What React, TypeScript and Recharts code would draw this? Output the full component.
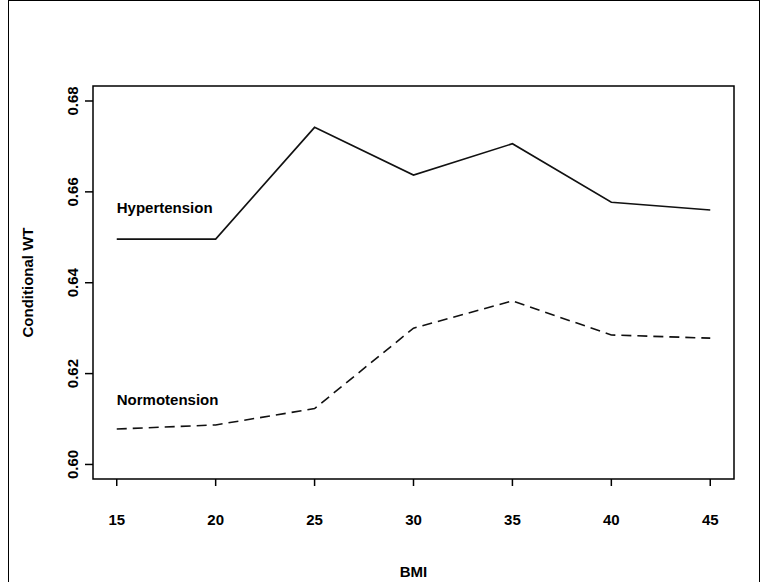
import React from 'react';
import { LineChart, Line, XAxis, YAxis, ReferenceArea, ReferenceDot, Label } from 'recharts';

const bmi = [15, 20, 25, 30, 35, 40, 45];
const hypertension = [0.6496, 0.6496, 0.6742, 0.6637, 0.6706, 0.6577, 0.656];
const normotension = [0.6078, 0.6087, 0.6123, 0.63, 0.636, 0.6285, 0.6278];
const xTicks = [15, 20, 25, 30, 35, 40, 45];
const yTicks = [0.6, 0.62, 0.64, 0.66, 0.68];
const xDomain = [13.8, 46.2];
const yDomain = [0.5968, 0.6833];
const annotations = [
  { text: 'Hypertension', x: 15, y: 0.6565 },
  { text: 'Normotension', x: 15, y: 0.6142 },
];

const data = bmi.map((b, i) => ({ bmi: b, hyper: hypertension[i], normo: normotension[i] }));

const FONT = '"Liberation Sans", Arial, sans-serif';

const YTick = (p: any) => {
  const { x, y, payload } = p;
  return (
    <text
      x={x}
      y={y}
      transform={`rotate(-90 ${x} ${y})`}
      textAnchor="middle"
      fontFamily={FONT}
      fontWeight="bold"
      fontSize={15}
      fill="#000"
    >
      {Number(payload.value).toFixed(2)}
    </text>
  );
};

const XTick = (p: any) => {
  const { x, y, payload } = p;
  return (
    <text x={x} y={y} dy={12} textAnchor="middle" fontFamily={FONT} fontWeight="bold" fontSize={15} fill="#000">
      {payload.value}
    </text>
  );
};

export default function App() {
  return (
    <div style={{ position: 'absolute', left: 0, top: 0, width: 769, height: 582, background: '#fff' }}>
      <div
        style={{
          position: 'absolute',
          left: 8,
          top: 0,
          width: 752,
          height: 582,
          borderLeft: '1.5px solid #000',
          borderTop: '1.5px solid #000',
          borderRight: '1.5px solid #000',
          boxSizing: 'border-box',
        }}
      />
      <div style={{ position: 'absolute', left: 0, top: 0 }}>
        <LineChart width={769} height={582} data={data} margin={{ top: 86, right: 35, bottom: 43, left: 33 }}>
          <XAxis
            dataKey="bmi"
            type="number"
            domain={xDomain}
            ticks={xTicks}
            allowDataOverflow
            axisLine={false}
            tickLine={{ stroke: '#000', strokeWidth: 1.5 }}
            tickSize={7}
            tickMargin={27}
            height={60}
            tick={<XTick />}
          >
            <Label
              content={(props: any) => {
                const vb = props.viewBox;
                return (
                  <text
                    x={vb.x + vb.width / 2}
                    y={571}
                    textAnchor="middle"
                    dominantBaseline="central"
                    fontFamily={FONT}
                    fontWeight="bold"
                    fontSize={15}
                    fill="#000"
                  >
                    BMI
                  </text>
                );
              }}
            />
          </XAxis>
          <YAxis
            type="number"
            domain={yDomain}
            ticks={yTicks}
            allowDataOverflow
            axisLine={false}
            tickLine={{ stroke: '#000', strokeWidth: 1.5 }}
            tickSize={8}
            tickMargin={7}
            width={60}
            tick={<YTick />}
          >
            <Label
              content={(props: any) => {
                const vb = props.viewBox;
                const cx = 33;
                const cy = vb.y + vb.height / 2;
                return (
                  <text
                    x={cx}
                    y={cy}
                    transform={`rotate(-90 ${cx} ${cy})`}
                    textAnchor="middle"
                    fontFamily={FONT}
                    fontWeight="bold"
                    fontSize={15}
                    fill="#000"
                  >
                    Conditional WT
                  </text>
                );
              }}
            />
          </YAxis>
          <ReferenceArea
            x1={xDomain[0]}
            x2={xDomain[1]}
            y1={yDomain[0]}
            y2={yDomain[1]}
            fill="none"
            fillOpacity={0}
            stroke="#000"
            strokeWidth={1.5}
            ifOverflow="visible"
          />
          <Line
            dataKey="hyper"
            stroke="#111"
            strokeWidth={1.6}
            dot={false}
            isAnimationActive={false}
            type="linear"
          />
          <Line
            dataKey="normo"
            stroke="#111"
            strokeWidth={1.6}
            strokeDasharray="10 6"
            dot={false}
            isAnimationActive={false}
            type="linear"
          />
          {annotations.map((a) => (
            <ReferenceDot
              key={a.text}
              x={a.x}
              y={a.y}
              r={0}
              fill="none"
              stroke="none"
              ifOverflow="visible"
              label={(props: any) => {
                const vb = props.viewBox || {};
                return (
                  <text
                    x={vb.x}
                    y={vb.y}
                    dominantBaseline="central"
                    fontFamily={FONT}
                    fontWeight="bold"
                    fontSize={15}
                    fill="#000"
                  >
                    {a.text}
                  </text>
                );
              }}
            />
          ))}
        </LineChart>
      </div>
    </div>
  );
}
